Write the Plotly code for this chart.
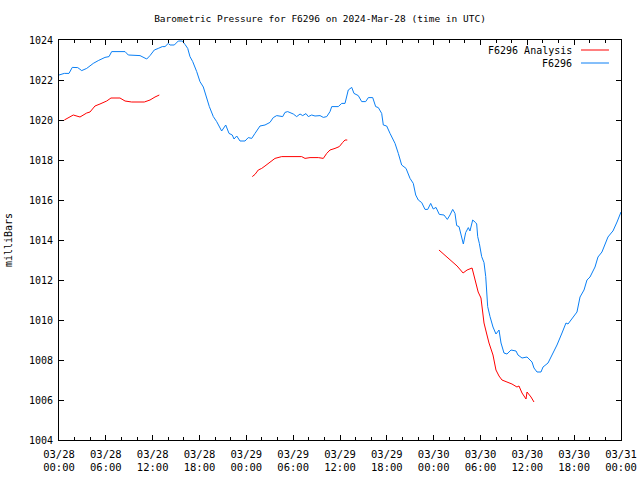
import plotly.graph_objects as go
import pandas as pd

START = pd.Timestamp("2024-03-28 00:00")

# F6296 observed pressure: hours after start, millibars
obs_hours = [0.00, 0.68, 1.28, 1.70, 2.40, 2.91, 3.55, 3.97, 4.39, 5.03, 5.38, 5.89, 6.41, 6.75, 8.46, 8.88,
             10.38, 11.24, 11.66, 12.21, 12.72, 13.23, 13.58, 14.00, 14.22, 14.77, 15.28, 15.80, 16.14, 16.49,
             16.78, 17.13, 17.64, 18.06, 18.49, 18.92, 19.26, 19.77, 20.20, 20.84, 21.36, 21.78, 22.20, 22.42,
             22.77, 23.19, 23.83, 24.25, 24.69, 25.11, 25.75, 26.39, 27.03, 27.45, 27.89, 28.66, 28.95, 29.30,
             30.02, 30.45, 30.88, 31.22, 31.64, 31.94, 32.37, 32.80, 33.44, 33.86, 34.30, 34.72, 34.94, 35.78,
             36.22, 36.64, 36.86, 37.06, 37.50, 37.79, 38.34, 38.78, 39.29, 39.63, 40.19, 40.57, 40.91, 41.34,
             41.55, 41.98, 42.41, 43.05, 43.47, 43.90, 44.46, 44.97, 45.39, 45.70, 46.03, 46.47, 46.89, 47.24,
             47.62, 47.95, 48.30, 48.72, 49.32, 49.75, 50.09, 50.44, 50.73, 50.95, 51.25, 51.59, 51.80, 52.10,
             52.44, 52.65, 53.00, 53.38, 53.51, 53.64, 53.85, 54.15, 54.45, 54.67, 54.92, 55.22, 55.60, 55.98,
             56.37, 56.63, 57.01, 57.39, 57.91, 58.55, 58.80, 59.32, 59.96, 60.60, 60.85, 61.24, 61.75, 62.01,
             62.65, 63.16, 63.80, 64.44, 64.95, 65.21, 65.85, 66.36, 66.75, 67.26, 67.64, 68.03, 68.67, 69.05,
             69.56, 69.95, 70.33, 70.85, 70.97, 71.49, 72.00]
obs_mb = [1022.25, 1022.33, 1022.33, 1022.63, 1022.62, 1022.47, 1022.58, 1022.72, 1022.83, 1022.97, 1023.05,
          1023.13, 1023.17, 1023.42, 1023.42, 1023.25, 1023.22, 1023.05, 1023.22, 1023.50, 1023.58, 1023.67,
          1023.67, 1023.83, 1023.75, 1023.75, 1023.95, 1023.95, 1023.78, 1023.58, 1023.17, 1022.92, 1022.42,
          1021.92, 1021.65, 1021.05, 1020.67, 1020.17, 1019.92, 1019.45, 1019.75, 1019.33, 1019.25, 1019.05,
          1019.20, 1018.95, 1018.95, 1019.12, 1019.08, 1019.33, 1019.70, 1019.75, 1019.88, 1020.12, 1020.22,
          1020.17, 1020.38, 1020.42, 1020.30, 1020.17, 1020.30, 1020.22, 1020.32, 1020.17, 1020.25, 1020.20,
          1020.22, 1020.13, 1020.17, 1020.42, 1020.67, 1020.67, 1020.83, 1020.83, 1021.25, 1021.50, 1021.63,
          1021.33, 1021.22, 1020.92, 1020.92, 1021.12, 1021.12, 1020.67, 1020.62, 1020.33, 1019.75, 1019.70,
          1019.33, 1018.83, 1018.33, 1017.75, 1017.58, 1017.08, 1016.83, 1016.25, 1016.00, 1015.87, 1015.53,
          1015.53, 1015.83, 1015.55, 1015.63, 1015.28, 1015.25, 1015.03, 1015.25, 1015.53, 1015.33, 1014.72,
          1014.67, 1014.17, 1013.80, 1014.37, 1014.62, 1014.45, 1015.00, 1014.87, 1014.80, 1014.17, 1013.83,
          1013.17, 1012.87, 1012.17, 1010.67, 1010.17, 1009.65, 1009.30, 1009.50, 1008.85, 1008.35, 1008.30,
          1008.50, 1008.45, 1008.25, 1008.10, 1008.15, 1007.90, 1007.60, 1007.40, 1007.40, 1007.65, 1007.85,
          1008.25, 1008.75, 1009.35, 1009.85, 1009.80, 1010.15, 1010.40, 1011.15, 1011.50, 1012.00, 1012.15,
          1012.65, 1013.15, 1013.40, 1013.75, 1014.15, 1014.40, 1014.45, 1014.90, 1015.40]

# F6296 Analysis (three separate segments)
ana1_hours = [0.68, 1.19, 1.83, 2.69, 3.55, 3.97, 4.61, 5.25, 6.11, 6.66, 7.81, 8.46, 9.31, 10.93, 11.66, 12.30, 12.85]
ana1_mb = [1020.00, 1020.10, 1020.25, 1020.15, 1020.35, 1020.40, 1020.70, 1020.80, 1020.95, 1021.10, 1021.10,
           1020.95, 1020.90, 1020.90, 1021.00, 1021.15, 1021.25]
ana2_hours = [24.76, 25.11, 25.53, 25.97, 26.39, 27.03, 27.67, 28.53, 31.09, 31.52, 32.16, 33.22, 33.86, 34.30,
              34.72, 35.36, 35.91, 36.35, 36.64, 36.93]
ana2_mb = [1017.17, 1017.28, 1017.50, 1017.58, 1017.70, 1017.88, 1018.08, 1018.17, 1018.17, 1018.08, 1018.12,
           1018.12, 1018.08, 1018.33, 1018.50, 1018.58, 1018.67, 1018.88, 1019.00, 1019.00]
ana3_hours = [48.68, 49.70, 50.35, 51.00, 51.77, 52.28, 52.92, 53.44, 53.70, 54.06, 54.30, 54.45, 54.83, 55.09,
              55.60, 55.98, 56.37, 56.75, 57.39, 58.03, 58.67, 58.93, 59.32, 59.83, 59.96, 60.47, 60.85]
ana3_mb = [1013.50, 1013.15, 1012.90, 1012.70, 1012.35, 1012.50, 1012.60, 1011.85, 1011.40, 1011.10, 1010.35,
           1009.85, 1009.25, 1008.85, 1008.25, 1007.50, 1007.20, 1007.00, 1006.90, 1006.80, 1006.65, 1006.70,
           1006.35, 1006.05, 1006.40, 1006.15, 1005.90]

tick_hours = [0, 6, 12, 18, 24, 30, 36, 42, 48, 54, 60, 66, 72]
tick_labels = ["03/28<br>00:00", "03/28<br>06:00", "03/28<br>12:00", "03/28<br>18:00",
               "03/29<br>00:00", "03/29<br>06:00", "03/29<br>12:00", "03/29<br>18:00",
               "03/30<br>00:00", "03/30<br>06:00", "03/30<br>12:00", "03/30<br>18:00",
               "03/31<br>00:00"]
y_ticks = [1004, 1006, 1008, 1010, 1012, 1014, 1016, 1018, 1020, 1022, 1024]

BLUE = "#0a7ff5"
RED = "#ff0000"
FONT = "DejaVu Sans Mono"


def to_time(hours):
    return [START + pd.Timedelta(hours=h) for h in hours]


fig = go.Figure()
for hrs, vals in [(ana1_hours, ana1_mb), (ana2_hours, ana2_mb), (ana3_hours, ana3_mb)]:
    fig.add_trace(go.Scatter(x=to_time(hrs), y=vals, mode="lines",
                             line=dict(color=RED, width=1), showlegend=False))
fig.add_trace(go.Scatter(x=to_time(obs_hours), y=obs_mb, mode="lines",
                         line=dict(color=BLUE, width=1), showlegend=False))

axis_common = dict(showline=True, linecolor="black", linewidth=1, mirror="ticks",
                   ticks="inside", tickcolor="black", showgrid=False, zeroline=False,
                   automargin=False)

fig.update_xaxes(**axis_common, range=[START, START + pd.Timedelta(hours=72)],
                 tickvals=to_time(tick_hours), ticktext=tick_labels, ticklen=5,
                 ticklabelstandoff=4,
                 tickfont=dict(family=FONT, size=10.5, color="black"),
                 minor=dict(dtick=2 * 3600 * 1000, tick0=START, ticks="inside", ticklen=3,
                            tickcolor="black", showgrid=False))
fig.update_yaxes(**axis_common, range=[1004, 1024], tickvals=y_ticks, ticklen=5,
                 ticklabelstandoff=3,
                 tickfont=dict(family=FONT, size=10, color="black"),
                 title=dict(text="milliBars", font=dict(family=FONT, size=10, color="black"), standoff=14))

# legend drawn at top right, text then sample line (as in the reference)
legend_rows = [("F6296 Analysis", RED, 0.975), ("F6296", BLUE, 0.9425)]
for name, color, yy in legend_rows:
    fig.add_annotation(x=0.9164, y=yy, xref="paper", yref="paper", text=name, showarrow=False,
                       xanchor="right", yanchor="middle", font=dict(family=FONT, size=10, color="black"))
    fig.add_shape(type="line", xref="paper", yref="paper", x0=0.9288, x1=0.9786, y0=yy, y1=yy,
                  line=dict(color=color, width=1))

fig.update_layout(
    width=640, height=480,
    margin=dict(l=59, r=19, t=40, b=40),
    paper_bgcolor="white", plot_bgcolor="white",
    title=dict(text="Barometric Pressure for F6296 on 2024-Mar-28 (time in UTC)",
               x=0.5, xanchor="center", y=1 - 19 / 480, yanchor="middle",
               font=dict(family=FONT, size=9.5, color="black")),
    showlegend=False,
)

fig.write_html("out.html", config={"displayModeBar": False},
               post_script="document.body.style.margin='0';document.body.style.overflow='hidden';")
